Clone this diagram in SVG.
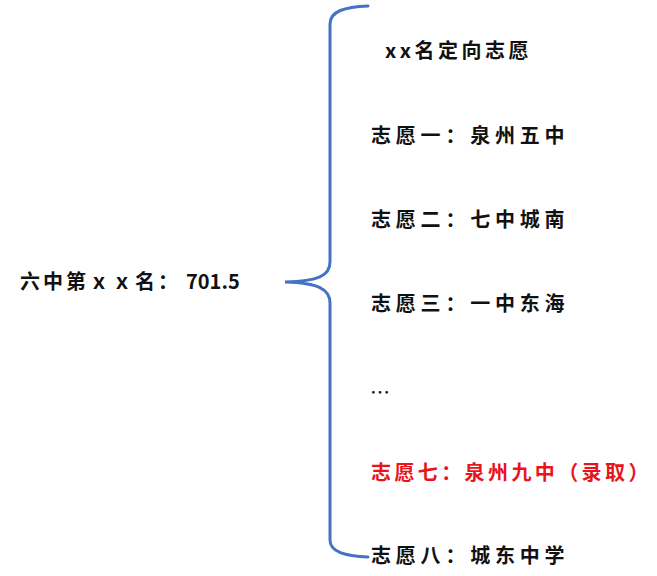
<svg xmlns="http://www.w3.org/2000/svg" width="657" height="576" viewBox="0 0 657 576">
<style>
.t{font-family:"Noto Sans CJK SC","Noto Sans",sans-serif;font-size:20px;font-weight:bold;fill:#111;letter-spacing:4.8px}
.red{fill:#e8141b;letter-spacing:3.4px}
.brace{fill:none;stroke:#4472c4;stroke-width:3;stroke-linecap:round}
</style>
<rect width="657" height="576" fill="#fff"/>
<g id="connectors">
<path class="brace" d="M368,6 C345,7 330,11 330,24 L330,262 C330,276 318,281 285,282 C318,283 330,289 330,303 L330,540 C330,552 345,556 368,557"/>
</g>
<g id="source"><text class="t" x="20" y="289" style="letter-spacing:3px">六中第ｘｘ名：<tspan x="186" style="letter-spacing:0">701.5</tspan></text></g>
<g id="header"><text class="t" x="385" y="58" style="letter-spacing:3.5px">xx名定向志愿</text></g>
<g id="choice1"><text class="t" x="371" y="143">志愿一：泉州五中</text></g>
<g id="choice2"><text class="t" x="371" y="227">志愿二：七中城南</text></g>
<g id="choice3"><text class="t" x="371" y="311">志愿三：一中东海</text></g>
<g id="ellipsis"><text class="t" x="370" y="400" style="letter-spacing:0;font-weight:normal">…</text></g>
<g id="choice7"><text class="t red" x="371" y="480">志愿七：泉州九中（录取）</text></g>
<g id="choice8"><text class="t" x="371" y="563">志愿八：城东中学</text></g>
</svg>
